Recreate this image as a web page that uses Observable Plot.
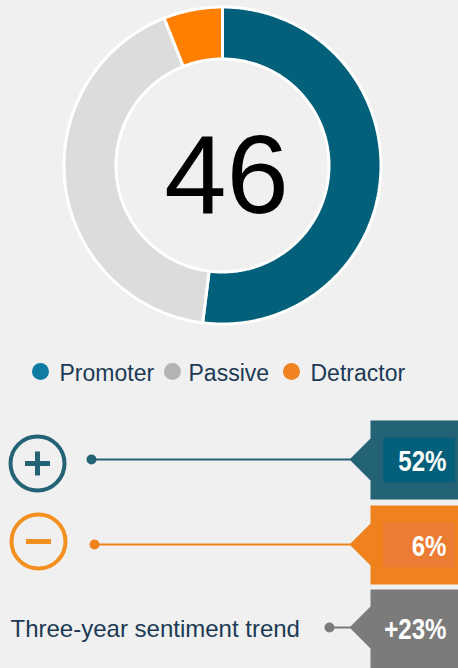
<!DOCTYPE html>
<html>
<head>
<meta charset="utf-8">
<script src="https://cdn.jsdelivr.net/npm/d3@7"></script>
<script src="https://cdn.jsdelivr.net/npm/@observablehq/plot@0.6"></script>
<style>
  html, body { margin: 0; padding: 0; background: #f0f0f0; }
  #chart svg { display: block; }
</style>
</head>
<body>
<div id="chart"></div>
<script>
// ---------- DATA ----------
const segments = ["Promoter", "Passive", "Detractor"];
const shares = [52, 42, 6];
const score = 46;
const calloutKeys = ["Promoter", "Detractor", "Trend"];
const calloutValues = [52, 6, 23];
const trendLabel = "Three-year sentiment trend";

// ---------- STYLE ----------
const W = 458, H = 668;
const sliceColors = {Promoter: "#03607a", Passive: "#dcdcdc", Detractor: "#ff7f00"};
const legendColors = {Promoter: "#0e7ba3", Passive: "#b3b3b3", Detractor: "#f08224"};
const boxColors = {Promoter: "#246375", Detractor: "#f0821e", Trend: "#7b7b7b"};
const innerColors = {Promoter: "#035f7a", Detractor: "#ec7c33", Trend: "#7b7b7b"};
const textColor = "#1c3a55";
const font = "'Liberation Sans', Arial, sans-serif";

// ---------- LAYOUT ----------
const donut = {cx: 222, cy: 165, rOuter: 158.5, rInner: 106.5};
const rowY = [459, 544, 627];
const lineStart = [91, 94, 329];
const box = {x1: 370, x2: 458, tip: 349, half: 21, h: 79};
const legendX = [40, 172, 291];
const legendTextX = [59, 188, 310];
const legendY = 371;

// donut slice polygons built from the shares
const total = d3.sum(shares);
let acc = 0;
const slicePolys = segments.map((s, i) => {
  const a0 = acc / total * 2 * Math.PI;
  acc += shares[i];
  const a1 = acc / total * 2 * Math.PI;
  const n = Math.max(2, Math.ceil((a1 - a0) / (Math.PI / 360)));
  const pts = [];
  for (let k = 0; k <= n; k++) {
    const a = a0 + (a1 - a0) * k / n;
    pts.push({x: donut.cx + donut.rOuter * Math.sin(a), y: donut.cy - donut.rOuter * Math.cos(a)});
  }
  for (let k = n; k >= 0; k--) {
    const a = a0 + (a1 - a0) * k / n;
    pts.push({x: donut.cx + donut.rInner * Math.sin(a), y: donut.cy - donut.rInner * Math.cos(a)});
  }
  return {seg: s, pts};
});

// callout shapes
const callouts = calloutKeys.map((k, i) => {
  const cy = rowY[i];
  const top = [420, 505, 589][i];
  const bottom = top + box.h;
  return {
    key: k, value: calloutValues[i], cy, top, bottom,
    shape: [
      {x: box.x1, y: top}, {x: box.x2, y: top}, {x: box.x2, y: bottom}, {x: box.x1, y: bottom},
      {x: box.x1, y: cy + box.half}, {x: box.tip, y: cy}, {x: box.x1, y: cy - box.half}
    ],
    label: (k === "Trend" ? (calloutValues[i] >= 0 ? "+" : "") : "") + calloutValues[i] + "%"
  };
});

const legend = segments.map((s, i) => ({seg: s, x: legendX[i], tx: legendTextX[i], y: legendY}));

const marks = [];
// donut
slicePolys.forEach(p => {
  marks.push(Plot.line(p.pts, {x: "x", y: "y", curve: "linear-closed", fill: sliceColors[p.seg], stroke: "white", strokeWidth: 3, strokeLinejoin: "miter"}));
});
marks.push(Plot.text([score], {x: () => donut.cx + 4, y: () => 212, text: d => String(d), fontSize: 112, fill: "#000", textAnchor: "middle", lineAnchor: "bottom", fontFamily: font}));

// legend
marks.push(Plot.dot(legend, {x: "x", y: "y", r: 8.5, fill: d => legendColors[d.seg], stroke: null}));
marks.push(Plot.text(legend, {x: "tx", y: () => legendY + 9, text: "seg", textAnchor: "start", lineAnchor: "bottom", fontSize: 23, fill: textColor, fontFamily: font}));

// icons
const icons = [{x: 37, y: 463, c: boxColors.Promoter, plus: true}, {x: 38, y: 541, c: "#f39020", plus: false}];
marks.push(Plot.dot(icons, {x: "x", y: "y", r: 27, stroke: d => d.c, strokeWidth: 4, fill: "none"}));
const bars = [];
icons.forEach(ic => {
  bars.push({x1: ic.x - 12.5, x2: ic.x + 12.5, y1: ic.y, y2: ic.y, c: ic.c});
  if (ic.plus) bars.push({x1: ic.x, x2: ic.x, y1: ic.y - 12, y2: ic.y + 12, c: ic.c});
});
marks.push(Plot.link(bars, {x1: "x1", x2: "x2", y1: "y1", y2: "y2", stroke: d => d.c, strokeWidth: 5}));

// connector lines + dots
const connectors = callouts.map((c, i) => ({x1: lineStart[i], x2: box.tip + 1, y: c.cy, col: boxColors[c.key]}));
marks.push(Plot.link(connectors, {x1: "x1", x2: "x2", y1: "y", y2: "y", stroke: d => d.col, strokeWidth: 2}));
marks.push(Plot.dot(connectors, {x: "x1", y: "y", r: 5, fill: d => d.col, stroke: null}));

// trend label
marks.push(Plot.text([trendLabel], {x: () => 10, y: () => rowY[2] + 9, text: d => d, textAnchor: "start", lineAnchor: "bottom", fontSize: 24, fill: textColor, fontFamily: font}));

// callout boxes
callouts.forEach(c => {
  marks.push(Plot.line(c.shape, {x: "x", y: "y", curve: "linear-closed", fill: boxColors[c.key], stroke: null}));
});
const inner = callouts.filter(c => c.key !== "Trend").map(c => ({key: c.key, y1: c.cy - 21.5, y2: c.cy + 23.5}));
marks.push(Plot.rect(inner, {x1: () => 383, x2: () => 455, y1: "y1", y2: "y2", fill: d => innerColors[d.key]}));
marks.push(Plot.text(callouts, {x: () => 446, y: d => d.cy + 11, text: "label", textAnchor: "end", lineAnchor: "bottom", fontSize: 29, fontWeight: "bold", fill: "white", fontFamily: font}));

const chart = Plot.plot({
  width: W, height: H,
  margin: 0,
  x: {domain: [0, W], range: [0, W], axis: null},
  y: {domain: [0, H], range: [0, H], axis: null},
  style: {background: "#f0f0f0", fontFamily: font},
  marks
});
// condensed look for the callout numbers
d3.select(chart).selectAll("text").filter(function () {
  return (this.getAttribute("fill") === "white") || (this.parentNode && this.parentNode.getAttribute("fill") === "white");
}).each(function () {
  const t = this.getAttribute("transform") || "";
  this.setAttribute("transform", t + " scale(0.83,1)");
});
document.getElementById("chart").appendChild(chart);
</script>
</body>
</html>
